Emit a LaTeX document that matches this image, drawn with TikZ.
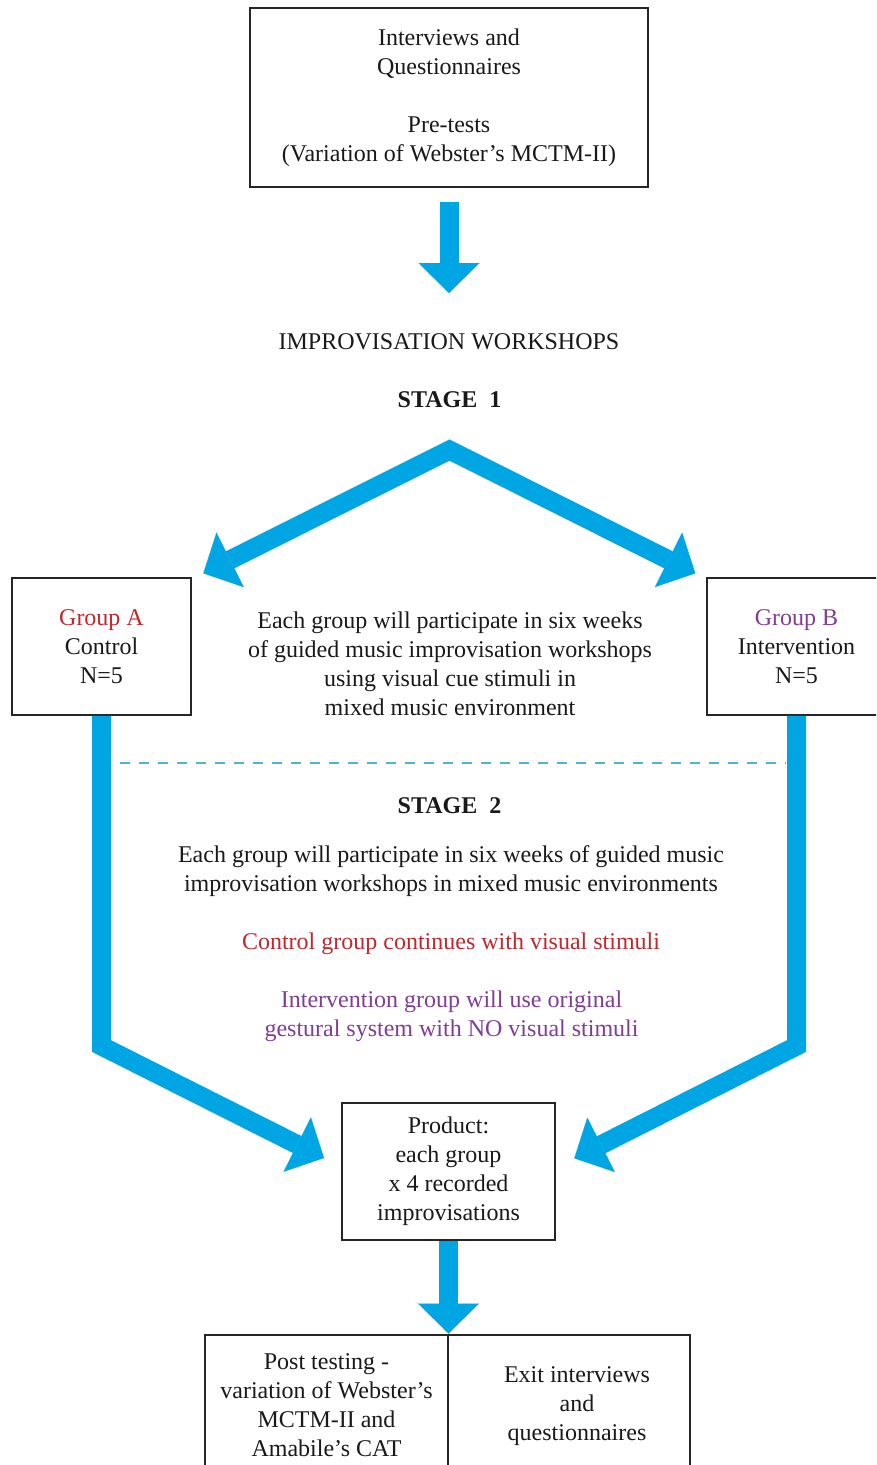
\documentclass[tikz,border=0pt]{standalone}
\usepackage{fontspec}
\setmainfont{Liberation Serif}
\usetikzlibrary{arrows.meta}
\definecolor{flowblue}{RGB}{0,166,228}
\definecolor{gared}{RGB}{193,39,45}
\definecolor{gbpurple}{RGB}{128,60,150}
\definecolor{dashcol}{RGB}{80,180,205}
\definecolor{inkcol}{RGB}{25,25,25}
\tikzset{
  every node/.style={font=\fontsize{24}{29}\selectfont, text=inkcol},
  box/.style={draw=black!85, line width=1.5pt, inner sep=0pt, align=center, fill=white},
  plain/.style={inner sep=0pt, align=center},
  bighead/.tip={Triangle[length=30pt, width=61pt, line width=0.01pt]},
  flow/.style={draw=flowblue, line width=19pt, line join=miter, -bighead},
  dashline/.style={draw=dashcol, line width=2pt, dash pattern=on 10pt off 9pt}
}
\begin{document}
\begin{tikzpicture}[x=1pt, y=-1pt]
\useasboundingbox (0,0) rectangle (876,1465);
\clip (0,0) rectangle (876,1465);

% nodes
\node[box, minimum width=398pt, minimum height=179pt] (top) at (449,97.5)
  {Interviews and\\Questionnaires\\[29pt]Pre-tests\\(Variation of Webster’s MCTM-II)};
\node[plain] (workshops) at (449,342) {IMPROVISATION WORKSHOPS};
\node[plain, font=\fontsize{24}{29}\selectfont\bfseries] (stage1) at (449.5,400) {STAGE\ \ 1};

\node[box, minimum width=179pt, minimum height=137pt] (ga) at (101.5,646.5)
  {\textcolor{gared}{Group A}\\Control\\N=5};
\node[box, minimum width=179pt, minimum height=137pt] (gb) at (796.5,646.5)
  {\textcolor{gbpurple}{Group B}\\Intervention\\N=5};
\node[plain] (s1text) at (450,663.5)
  {Each group will participate in six weeks\\of guided music improvisation workshops\\using visual cue stimuli in\\mixed music environment};

\node[plain, font=\fontsize{24}{29}\selectfont\bfseries] (stage2) at (449.5,806) {STAGE\ \ 2};
\node[plain] (s2text) at (451,871.5)
  {Each group will participate in six weeks of guided music\\improvisation workshops in mixed music environments};
\node[plain, text=gared] (ctrl) at (451,944) {Control group continues with visual stimuli};
\node[plain, text=gbpurple] (interv) at (451.5,1016.5)
  {Intervention group will use original\\gestural system with NO visual stimuli};

\node[box, minimum width=213pt, minimum height=137pt] (prod) at (448.5,1171.5)
  {Product:\\each group\\x 4 recorded\\improvisations};

\node[box, minimum width=243pt, minimum height=140pt] (post) at (326.5,1405)
  {Post testing -\\variation of Webster’s\\MCTM-II and\\Amabile’s CAT};
\node[box, minimum width=242pt, minimum height=140pt] (exit) at (569,1405) {};
\node[plain] (exittext) at (577,1406) {Exit interviews\\and\\questionnaires};

% coordinates
\coordinate (toptip) at (449,293);
\coordinate (apex) at (449.5,450);
\coordinate (tipA) at (203.3,573.3);
\coordinate (tipB) at (695.3,573.3);
\coordinate (bendA) at (101.5,1046);
\coordinate (bendB) at (796.5,1046);
\coordinate (tipPA) at (324,1158);
\coordinate (tipPB) at (574.3,1158.3);
\coordinate (bottip) at (448.5,1333.5);
\coordinate (dashL) at (120,763);
\coordinate (dashR) at (786,763);

% connectors
\draw[flow, shorten <=14pt] (top.south) -- (toptip);
\draw[flow, bighead-bighead] (tipA) -- (apex) -- (tipB);
\draw[flow] (ga.south) -- (bendA) -- (tipPA);
\draw[flow] (gb.south) -- (bendB) -- (tipPB);
\draw[flow] (prod.south) -- (bottip);
\draw[dashline] (dashL) -- (dashR);
\end{tikzpicture}
\end{document}
